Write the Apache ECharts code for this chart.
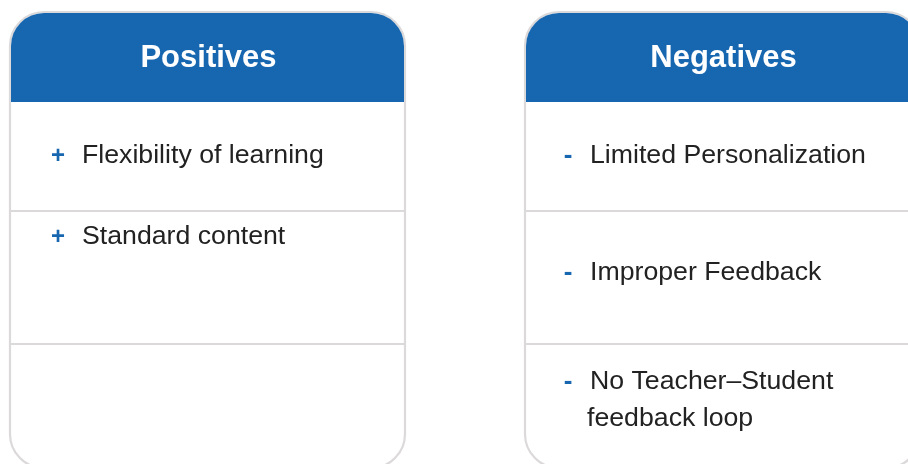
<!DOCTYPE html>
<html><head><meta charset="utf-8">
<script src="https://cdn.jsdelivr.net/npm/echarts@6/dist/echarts.min.js"></script>
<style>html,body{margin:0;padding:0;background:#fff}#c{width:908px;height:464px}</style>
</head><body><div id="c"></div>
<script>
// ---- data ----
var titles = ['Positives', 'Negatives'];
var markers = ['+', '-'];
var positives = ['Flexibility of learning', 'Standard content', ''];
var negatives = ['Limited Personalization', 'Improper Feedback', 'No Teacher\u2013Student\nfeedback loop'];

// ---- layout ----
var FAMILY = 'Liberation Sans';
var BLUE = '#1766b0', GRAY = '#dcd9da', INK = '#222222';
var cards = [
  { x: 10, items: positives, itemY: [156, 237, 0] },
  { x: 525, items: negatives, itemY: [156, 273, 382] }
];
var W = 395, TOP = 12, H = 456, HEAD = 89, R = 34;
var dividers = [211, 344];

var g = [];
cards.forEach(function (c, ci) {
  g.push({ type: 'rect', shape: { x: c.x, y: TOP, width: W, height: H, r: R },
    style: { fill: '#fff', stroke: GRAY, lineWidth: 2.2 } });
  g.push({ type: 'rect', shape: { x: c.x + 1, y: TOP + 1, width: W - 2, height: HEAD, r: [R - 1, R - 1, 0, 0] },
    style: { fill: BLUE } });
  g.push({ type: 'text', x: c.x + W / 2 + 1, y: TOP + 2 + HEAD / 2,
    style: { text: titles[ci], fill: '#fff', fontFamily: FAMILY, fontSize: 31, fontWeight: 'bold', textAlign: 'center', textVerticalAlign: 'middle' } });
  dividers.forEach(function (y) {
    g.push({ type: 'line', shape: { x1: c.x, y1: y, x2: c.x + W, y2: y }, style: { stroke: GRAY, lineWidth: 2 } });
  });
  c.items.forEach(function (t, i) {
    if (!t) return;
    var lines = t.split('\n');
    var y0 = c.itemY[i];
    var mx = ci === 0 ? c.x + 48 : c.x + 43;
    g.push({ type: 'text', x: mx, y: y0,
      style: { text: markers[ci], fill: BLUE, fontFamily: FAMILY, fontSize: ci === 0 ? 24 : 26, fontWeight: 'bold', textAlign: 'center', textVerticalAlign: 'middle' } });
    lines.forEach(function (ln, li) {
      g.push({ type: 'text', x: (li === 0 ? c.x + 72 - (ci === 1 ? 7 : 0) : c.x + 62), y: y0 + li * 37,
        style: { text: ln, fill: INK, fontFamily: FAMILY, fontSize: 26.7, textAlign: 'left', textVerticalAlign: 'middle' } });
    });
  });
});

var chart = echarts.init(document.getElementById('c'), null, { renderer: 'canvas' });
chart.setOption({ animation: false, backgroundColor: '#fff', graphic: { elements: g } });
</script></body></html>
